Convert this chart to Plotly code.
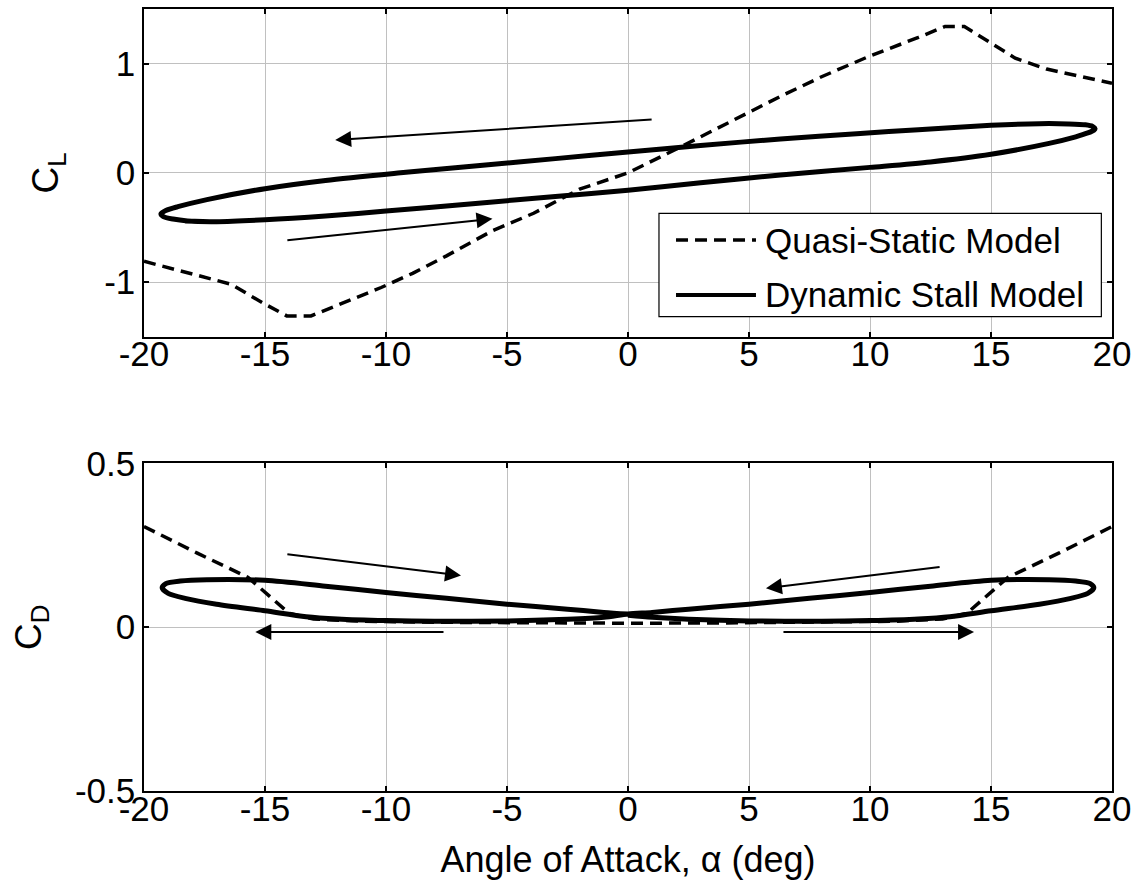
import plotly.graph_objects as go

# ---- Lift coefficient ----
# Quasi-static model
alpha_cl_qs = [-20, -18, -16.4, -15.1, -14.1, -13.1, -12, -10.2, -8.9, -7.5, -5.6, -3.9, -2, 0,
               2.2, 4.4, 6.3, 8, 10, 12, 13.1, 13.9, 15, 16, 17.3, 18.5, 20]
cl_qs = [-0.81, -0.93, -1.02, -1.19, -1.31, -1.31, -1.21, -1.05, -0.92, -0.76, -0.53, -0.37, -0.15, 0.0,
         0.24, 0.49, 0.70, 0.88, 1.07, 1.24, 1.34, 1.34, 1.19, 1.05, 0.95, 0.89, 0.82]

# Dynamic stall model: one pitching cycle (up-stroke on the lower branch, down-stroke on the upper)
alpha_cl_ds = [-18.3, -17, -15, -12.5, -10, -6.3, -3, 0, 3, 6.3, 10, 12.5, 15, 17.4, 18.5, 19.0, 19.25,
               19.3, 19.2, 18.9, 18.2, 17, 15, 12, 9.6, 6.3, 3, 0, -3, -6, -9.4, -12.5, -15, -17.4,
               -18.6, -19.1, -19.3, -19.2, -18.8, -18.2, -17.0]
cl_ds = [-0.44, -0.447, -0.43, -0.395, -0.35, -0.28, -0.217, -0.16, -0.09, -0.02, 0.05, 0.10, 0.17, 0.27,
         0.33, 0.365, 0.39, 0.405, 0.425, 0.44, 0.448, 0.45, 0.435, 0.395, 0.36, 0.31, 0.25, 0.19, 0.13,
         0.07, 0.0, -0.07, -0.145, -0.245, -0.31, -0.345, -0.375, -0.40, -0.423, -0.44, -0.447]

# ---- Drag coefficient ----
alpha_cd_qs = [-20, -17.8, -15.7, -14, -13, -11, -8, -4, 0, 4, 8, 11, 13, 14, 15.7, 17.8, 20]
cd_qs = [0.307, 0.226, 0.152, 0.042, 0.025, 0.018, 0.015, 0.013, 0.012, 0.013, 0.015, 0.018, 0.025,
         0.042, 0.152, 0.226, 0.307]

alpha_cd_ds = [0, 1, 2.5, 5, 8, 10, 12, 13.3, 15, 17, 18.3, 19.0, 19.25, 19.1, 18.5, 17.4, 15, 12.5, 10,
               7.5, 5, 2.5, 1, 0, -1, -2.5, -5, -8, -10, -12, -13.3, -15, -17, -18.3, -19.0, -19.25,
               -19.1, -18.5, -17.4, -15, -12.5, -10, -7.5, -5, -2.5, -1, 0]
cd_ds = [0.036, 0.030, 0.024, 0.019, 0.018, 0.020, 0.025, 0.032, 0.050, 0.070, 0.088, 0.103, 0.120,
         0.133, 0.141, 0.145, 0.143, 0.125, 0.106, 0.088, 0.070, 0.055, 0.045, 0.040, 0.030, 0.024,
         0.019, 0.018, 0.020, 0.025, 0.032, 0.050, 0.070, 0.088, 0.103, 0.120, 0.133, 0.141, 0.145,
         0.143, 0.125, 0.106, 0.088, 0.070, 0.055, 0.045, 0.040]

# Axis ticks
x_ticks = [-20, -15, -10, -5, 0, 5, 10, 15, 20]
x_tick_text = ["-20", "-15", "-10", "-5", "0", "5", "10", "15", "20"]
cl_ticks = [-1, 0, 1]
cl_tick_text = ["-1", "0", "1"]
cd_ticks = [-0.5, 0, 0.5]
cd_tick_text = ["-0.5", "0", "0.5"]

# Direction-of-travel arrows: (tail alpha, tail value, head alpha, head value)
cl_arrows = [(1.1, 0.49, -12.1, 0.30), (-14.2, -0.62, -5.6, -0.42)]
cd_arrows = [(-14.2, 0.224, -6.9, 0.158), (-7.5, -0.015, -15.4, -0.015),
             (13.0, 0.185, 5.7, 0.119), (6.3, -0.015, 14.3, -0.015)]

FONT = "Arial, Liberation Sans, sans-serif"
DASH = "12px,7px"

fig = go.Figure()
fig.add_trace(go.Scatter(x=alpha_cl_qs, y=cl_qs, mode="lines", name="Quasi-Static Model",
                         line=dict(color="black", width=3.5, dash=DASH), xaxis="x", yaxis="y"))
fig.add_trace(go.Scatter(x=alpha_cl_ds, y=cl_ds, mode="lines", name="Dynamic Stall Model",
                         line=dict(color="black", width=5, shape="spline", smoothing=0.8),
                         xaxis="x", yaxis="y"))
fig.add_trace(go.Scatter(x=alpha_cd_qs, y=cd_qs, mode="lines", showlegend=False,
                         line=dict(color="black", width=3.5, dash=DASH), xaxis="x2", yaxis="y2"))
fig.add_trace(go.Scatter(x=alpha_cd_ds, y=cd_ds, mode="lines", showlegend=False,
                         line=dict(color="black", width=5, shape="spline", smoothing=0.8),
                         xaxis="x2", yaxis="y2"))

annotations = []
for axes, arrows in (("", cl_arrows), ("2", cd_arrows)):
    for x0, y0, x1, y1 in arrows:
        annotations.append(dict(
            x=x1, y=y1, ax=x0, ay=y0, xref="x" + axes, yref="y" + axes,
            axref="x" + axes, ayref="y" + axes, text=" ", showarrow=True,
            arrowhead=2, arrowsize=1.6, arrowwidth=2, arrowcolor="black", standoff=0))

# Legend box (drawn over the grid in the upper panel)
legend_rows = [("Quasi-Static Model", DASH, 0.7046), ("Dynamic Stall Model", "solid", 0.6343)]
shapes = [dict(type="rect", xref="paper", yref="paper", x0=0.532, x1=0.989, y0=0.6065, y1=0.7387,
               line=dict(color="black", width=1.2), fillcolor="white", layer="above")]
for label, dash, yrow in legend_rows:
    shapes.append(dict(type="line", xref="paper", yref="paper", x0=0.5496, x1=0.6322, y0=yrow, y1=yrow,
                       line=dict(color="black", width=3.5 if dash != "solid" else 4, dash=dash),
                       layer="above"))
    annotations.append(dict(x=0.6395, y=yrow, xref="paper", yref="paper", text=label,
                            showarrow=False, xanchor="left", yanchor="middle",
                            font=dict(family=FONT, size=35, color="black")))

axis_common = dict(
    showline=True, linecolor="black", linewidth=1.5, mirror="ticks",
    ticks="inside", ticklen=5, tickwidth=1.5, tickcolor="black",
    showgrid=True, gridcolor="#c0c0c0", gridwidth=1, zeroline=False, automargin=False,
    tickfont=dict(family=FONT, size=35, color="black"),
)

fig.update_layout(
    width=1140, height=886,
    margin=dict(l=144, r=28, t=9, b=95, autoexpand=False),
    paper_bgcolor="white", plot_bgcolor="white",
    showlegend=False,
    font=dict(family=FONT, color="black"),
    xaxis=dict(domain=[0, 1], anchor="y", range=[-20, 20], tickvals=x_ticks, ticktext=x_tick_text,
               ticklabelstandoff=-14, **axis_common),
    yaxis=dict(domain=[0.581, 1], anchor="x", range=[-1.5, 1.5], tickvals=cl_ticks,
               ticktext=cl_tick_text,
               title=dict(text="C<sub>L</sub>", font=dict(family=FONT, size=37), standoff=34),
               **axis_common),
    xaxis2=dict(domain=[0, 1], anchor="y2", range=[-20, 20], tickvals=x_ticks, ticktext=x_tick_text,
                ticklabelstandoff=-14,
                title=dict(text="Angle of Attack, α (deg)", font=dict(family=FONT, size=36), standoff=20),
                **axis_common),
    yaxis2=dict(domain=[0, 0.419], anchor="x2", range=[-0.5, 0.5], tickvals=cd_ticks,
                ticktext=cd_tick_text,
                title=dict(text="C<sub>D</sub>", font=dict(family=FONT, size=37), standoff=22),
                **axis_common),
    annotations=annotations,
    shapes=shapes,
)

fig.write_html("out.html")
